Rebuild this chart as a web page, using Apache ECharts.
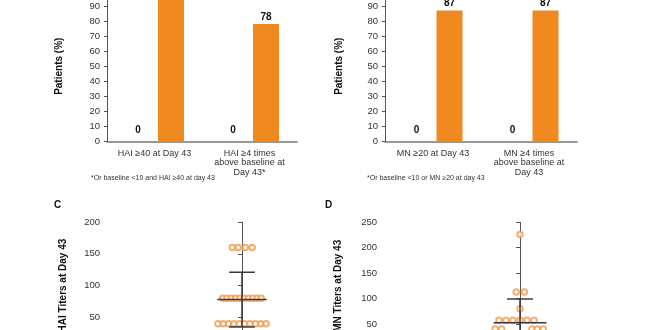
<!DOCTYPE html>
<html>
<head>
<meta charset="utf-8">
<script src="https://cdn.jsdelivr.net/npm/echarts@6/dist/echarts.min.js"></script>
<style>
  html, body { margin: 0; padding: 0; background: #fff; }
  #chart { width: 660px; height: 330px; }
</style>
</head>
<body>
<div id="chart"></div>
<script>
// Panel A/B: responder rates (% of patients)
const haiCategories = ['HAI ≥40 at Day 43', 'HAI ≥4 times\nabove baseline at\nDay 43*'];
const haiPlacebo = [0, 0];
const haiVaccine = [100, 78];
const mnCategories = ['MN ≥20 at Day 43', 'MN ≥4 times\nabove baseline at\nDay 43'];
const mnPlacebo = [0, 0];
const mnVaccine = [87, 87];

// Panel C/D: individual titers at Day 43 and their swarm slot (in circle widths)
const haiTiters = [160, 160, 160, 160,
  80, 80, 80, 80, 80, 80, 80, 80, 80, 80,
  40, 40, 40, 40, 40, 40, 40, 40, 40, 40];
const haiSlots = [-1.8, -0.7, 0.6, 1.9,
  -3.6, -2.8, -2.0, -1.2, -0.4, 0.4, 1.2, 2.0, 2.8, 3.6,
  -4.5, -3.5, -2.5, -1.5, -0.5, 0.5, 1.5, 2.5, 3.5, 4.5];
const mnTiters = [226, 113, 113, 80,
  57, 57, 57, 57, 57, 57,
  40, 40, 40, 40, 40];
const mnSlots = [0, -0.7, 0.8, 0,
  -3.9, -2.6, -1.3, 0, 1.3, 2.6,
  -4.6, -3.4, 2.2, 3.2, 4.3];
// mean and standard deviation shown as error bars
const haiStats = [78, 43];
const mnStats = [52.5, 46.5];

const FONT = '"Liberation Sans", Arial, sans-serif';
const ORANGE = '#F0891F';
const DOT = '#F39A4B';
const AXIS = '#555';
const TXT = '#333';

function pairs(xs, ys) { return ys.map((v, i) => [xs[i], v]); }

function percentAxis(gridIndex, nameGap) {
  return {
    type: 'value', gridIndex, min: 0, max: 100, interval: 10,
    name: 'Patients (%)', nameLocation: 'middle', nameGap,
    nameTextStyle: { fontFamily: FONT, fontSize: 10, fontWeight: 'bold', color: '#111' },
    axisLine: { show: true, lineStyle: { color: AXIS, width: 1 } },
    axisTick: { show: true, length: 3, lineStyle: { color: AXIS } },
    axisLabel: { fontFamily: FONT, fontSize: 9.5, color: TXT, margin: 7 },
    splitLine: { show: false }
  };
}

function categoryAxis(gridIndex, data) {
  return {
    type: 'category', gridIndex, data,
    axisLine: { show: true, lineStyle: { color: '#777', width: 1.5 } },
    axisTick: { show: false },
    axisLabel: { fontFamily: FONT, fontSize: 9, color: TXT, lineHeight: 9.5, margin: 7, interval: 0 }
  };
}

function titerAxis(gridIndex, max, name, nameGap) {
  return {
    type: 'value', gridIndex, min: 0, max, interval: 50,
    name, nameLocation: 'middle', nameGap,
    nameTextStyle: { fontFamily: FONT, fontSize: 10, fontWeight: 'bold', color: '#111' },
    axisLine: { show: true, lineStyle: { color: AXIS, width: 1 } },
    axisTick: { show: true, length: 4, lineStyle: { color: AXIS } },
    axisLabel: { fontFamily: FONT, fontSize: 9.5, color: TXT, margin: 8,
      formatter: v => (v === 0 ? '' : v) },
    splitLine: { show: false }
  };
}

function swarmAxis(gridIndex) {
  return { type: 'value', gridIndex, min: -25, max: 25, show: false };
}

function barPair(xIdx, placebo, vaccine) {
  const lbl = { show: true, position: 'top', fontFamily: FONT, fontSize: 10, fontWeight: 'bold', color: '#111' };
  return [
    { type: 'bar', xAxisIndex: xIdx, yAxisIndex: xIdx, data: placebo, barWidth: 26, barGap: '27%',
      itemStyle: { color: '#9a9a9a' }, label: Object.assign({}, lbl, { distance: 6 }) },
    { type: 'bar', xAxisIndex: xIdx, yAxisIndex: xIdx, data: vaccine, barWidth: 26, barGap: '27%',
      itemStyle: { color: ORANGE }, label: Object.assign({}, lbl, { distance: 2 }) }
  ];
}

function swarm(idx, titers, slots) {
  return {
    type: 'scatter', xAxisIndex: idx, yAxisIndex: idx, data: pairs(slots, titers),
    symbol: 'emptyCircle', symbolSize: 5.5,
    itemStyle: { color: DOT, borderWidth: 1.2 }, z: 2
  };
}

function errorBar(idx, stats, meanHalf, whiskerHalf) {
  return {
    type: 'custom', xAxisIndex: idx, yAxisIndex: idx, z: 3,
    data: [[0, stats[0], stats[1]]],
    renderItem: (params, api) => {
      const x = api.value(0), m = api.value(1), s = api.value(2);
      const c = api.coord([x, m]);
      const hi = api.coord([x, m + s]);
      const lo = api.coord([x, m - s]);
      const mw = api.size([meanHalf, 0])[0];
      const ww = api.size([whiskerHalf, 0])[0];
      const st = { stroke: '#3a3a3a', lineWidth: 1.5 };
      return {
        type: 'group',
        children: [
          { type: 'line', shape: { x1: hi[0], y1: hi[1], x2: lo[0], y2: lo[1] }, style: st },
          { type: 'line', shape: { x1: c[0] - mw, y1: c[1], x2: c[0] + mw, y2: c[1] }, style: st },
          { type: 'line', shape: { x1: hi[0] - ww, y1: hi[1], x2: hi[0] + ww, y2: hi[1] }, style: st },
          { type: 'line', shape: { x1: lo[0] - ww, y1: lo[1], x2: lo[0] + ww, y2: lo[1] }, style: st }
        ]
      };
    }
  };
}

const chart = echarts.init(document.getElementById('chart'), null, { renderer: 'canvas' });
const gridBase = { outerBoundsMode: 'none', containLabel: false };
chart.setOption({
  animation: false,
  backgroundColor: '#fff',
  textStyle: { fontFamily: FONT },
  grid: [
    Object.assign({ left: 107, right: 363, top: -9, bottom: 188.5 }, gridBase),
    Object.assign({ left: 385, right: 83, top: -9, bottom: 188.5 }, gridBase),
    Object.assign({ left: 108, right: 284, top: 222, bottom: -19.2 }, gridBase),
    Object.assign({ left: 385, right: 5, top: 222.3, bottom: -19.3 }, gridBase)
  ],
  xAxis: [
    categoryAxis(0, haiCategories),
    categoryAxis(1, mnCategories),
    swarmAxis(2),
    swarmAxis(3)
  ],
  yAxis: [
    percentAxis(0, 43),
    percentAxis(1, 41),
    titerAxis(2, 200, 'HAI Titers at Day 43', 40),
    titerAxis(3, 250, 'MN Titers at Day 43', 42)
  ],
  graphic: [
    { type: 'text', left: 91, top: 175, style: { text: '*Or baseline <10 and HAI ≥40 at day 43', font: '7px ' + FONT, fill: TXT } },
    { type: 'text', left: 367, top: 175, style: { text: '*Or baseline <10 or MN ≥20 at day 43', font: '7px ' + FONT, fill: TXT } },
    { type: 'text', left: 54, top: 200, style: { text: 'C', font: 'bold 10px ' + FONT, fill: '#111' } },
    { type: 'text', left: 325, top: 200, style: { text: 'D', font: 'bold 10px ' + FONT, fill: '#111' } }
  ],
  series: [
    ...barPair(0, haiPlacebo, haiVaccine),
    ...barPair(1, mnPlacebo, mnVaccine),
    swarm(2, haiTiters, haiSlots),
    errorBar(2, haiStats, 4.6, 2.4),
    swarm(3, mnTiters, mnSlots),
    errorBar(3, mnStats, 4.9, 2.4)
  ]
});
</script>
</body>
</html>
